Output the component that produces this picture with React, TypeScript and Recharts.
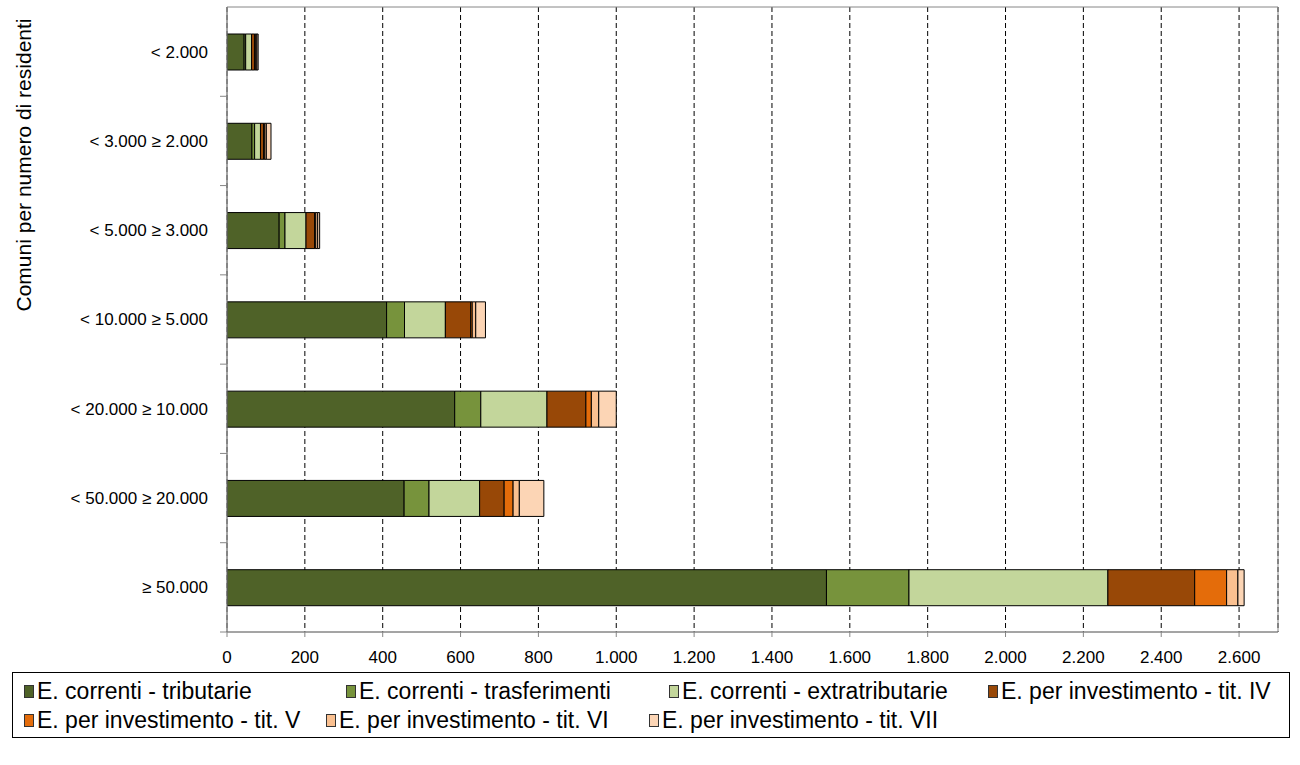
import React from "react";
import { BarChart, Bar, XAxis, YAxis, CartesianGrid, ReferenceArea } from "recharts";

const categories = [
  "< 2.000",
  "< 3.000 ≥ 2.000",
  "< 5.000 ≥ 3.000",
  "< 10.000 ≥ 5.000",
  "< 20.000 ≥ 10.000",
  "< 50.000 ≥ 20.000",
  "≥ 50.000",
];

const tributarie = [44, 64, 134, 410, 585, 455, 1540];
const trasferimenti = [4, 7, 15, 46, 67, 64, 212];
const extratributarie = [15, 15, 54, 105, 170, 130, 511];
const titIV = [8, 8, 22, 65, 100, 63, 223];
const titV = [3, 3, 3, 4, 14, 23, 82];
const titVI = [3, 4, 5, 9, 19, 16, 29];
const titVII = [3, 12, 5, 25, 45, 63, 16];

const xTicks = [0, 200, 400, 600, 800, 1000, 1200, 1400, 1600, 1800, 2000, 2200, 2400, 2600];
const xTickLabels = ["0", "200", "400", "600", "800", "1.000", "1.200", "1.400", "1.600", "1.800", "2.000", "2.200", "2.400", "2.600"];

const series = [
  { key: "trib", name: "E. correnti - tributarie", values: tributarie, color: "#4F6228" },
  { key: "trasf", name: "E. correnti - trasferimenti", values: trasferimenti, color: "#77933C" },
  { key: "extra", name: "E. correnti - extratributarie", values: extratributarie, color: "#C3D69B" },
  { key: "iv", name: "E. per investimento - tit. IV", values: titIV, color: "#984807" },
  { key: "v", name: "E. per investimento - tit. V", values: titV, color: "#E46C0A" },
  { key: "vi", name: "E. per investimento - tit. VI", values: titVI, color: "#FAC090" },
  { key: "vii", name: "E. per investimento - tit. VII", values: titVII, color: "#FCD5B5" },
];

const data = categories.map((c, i) => {
  const row: Record<string, string | number> = { cat: c };
  series.forEach((s) => {
    row[s.key] = s.values[i];
  });
  return row;
});

const FONT = "'Liberation Sans', Arial, sans-serif";
const PLOT_TOP = 7;
const PLOT_BOTTOM = 632;
const BAND = (PLOT_BOTTOM - PLOT_TOP) / categories.length;
const AXIS_COLOR = "#868686";

const YTick = (props: any) => {
  const { x, y, payload } = props;
  return (
    <g>
      <text x={x - 19} y={y} dy="0.35em" textAnchor="end" fontSize={17} fontFamily={FONT} fill="#000">
        {payload.value}
      </text>
      <line x1={x - 7} x2={x} y1={y + BAND / 2} y2={y + BAND / 2} stroke={AXIS_COLOR} strokeWidth={1} />
    </g>
  );
};

const YTitle = () => (
  <text
    x={31}
    y={165}
    transform="rotate(-90, 31, 165)"
    textAnchor="middle"
    fontSize={21}
    fontFamily={FONT}
    fill="#000"
  >
    Comuni per numero di residenti
  </text>
);

const legendPos = [
  [24, 346, 669, 988],
  [24, 326, 649],
];

export default function App() {
  return (
    <div style={{ position: "absolute", left: 0, top: 0, width: 1300, height: 765, background: "#fff" }}>
      <BarChart
        width={1300}
        height={765}
        data={data}
        layout="vertical"
        margin={{ top: PLOT_TOP, right: 22, bottom: 765 - PLOT_BOTTOM - 40, left: 0 }}
        barSize={36}
      >
        <CartesianGrid horizontal={false} vertical={true} stroke="#000" strokeDasharray="5 3" />
        <XAxis
          type="number"
          domain={[0, 2700]}
          ticks={xTicks}
          interval={0}
          height={40}
          tickFormatter={(v: number) => xTickLabels[xTicks.indexOf(v)] ?? String(v)}
          tick={{ fontSize: 17, fontFamily: FONT, fill: "#000" }}
          tickSize={5}
          tickMargin={14}
          axisLine={{ stroke: AXIS_COLOR }}
          tickLine={{ stroke: AXIS_COLOR }}
          allowDataOverflow
        />
        <YAxis
          type="category"
          dataKey="cat"
          width={227}
          tick={<YTick />}
          tickSize={0}
          tickMargin={0}
          tickLine={false}
          axisLine={{ stroke: AXIS_COLOR }}
          interval={0}
          label={{ content: () => <YTitle /> }}
        />
        <ReferenceArea x1={0} x2={2700} fill="none" stroke={AXIS_COLOR} strokeWidth={1} ifOverflow="visible" />
        {series.map((s) => (
          <Bar
            key={s.key}
            dataKey={s.key}
            name={s.name}
            stackId="a"
            fill={s.color}
            stroke="#000"
            strokeWidth={1}
            isAnimationActive={false}
          />
        ))}
      </BarChart>
      <div
        style={{
          position: "absolute",
          left: 12,
          top: 672,
          width: 1278,
          height: 66,
          border: "1px solid #000",
          boxSizing: "border-box",
          fontFamily: FONT,
          fontSize: 23,
          color: "#000",
        }}
      >
        {series.map((s, i) => {
          const row = Math.floor(i / 4);
          const col = i % 4;
          return (
            <div
              key={s.key}
              style={{
                position: "absolute",
                left: legendPos[row][col] - 13,
                top: row === 0 ? 5 : 34,
                display: "flex",
                alignItems: "center",
                whiteSpace: "nowrap",
                lineHeight: "26px",
              }}
            >
              <span
                style={{
                  display: "inline-block",
                  width: 8,
                  height: 11,
                  background: s.color,
                  border: "1px solid #333",
                  marginRight: 3,
                }}
              />
              <span>{s.name}</span>
            </div>
          );
        })}
      </div>
    </div>
  );
}
